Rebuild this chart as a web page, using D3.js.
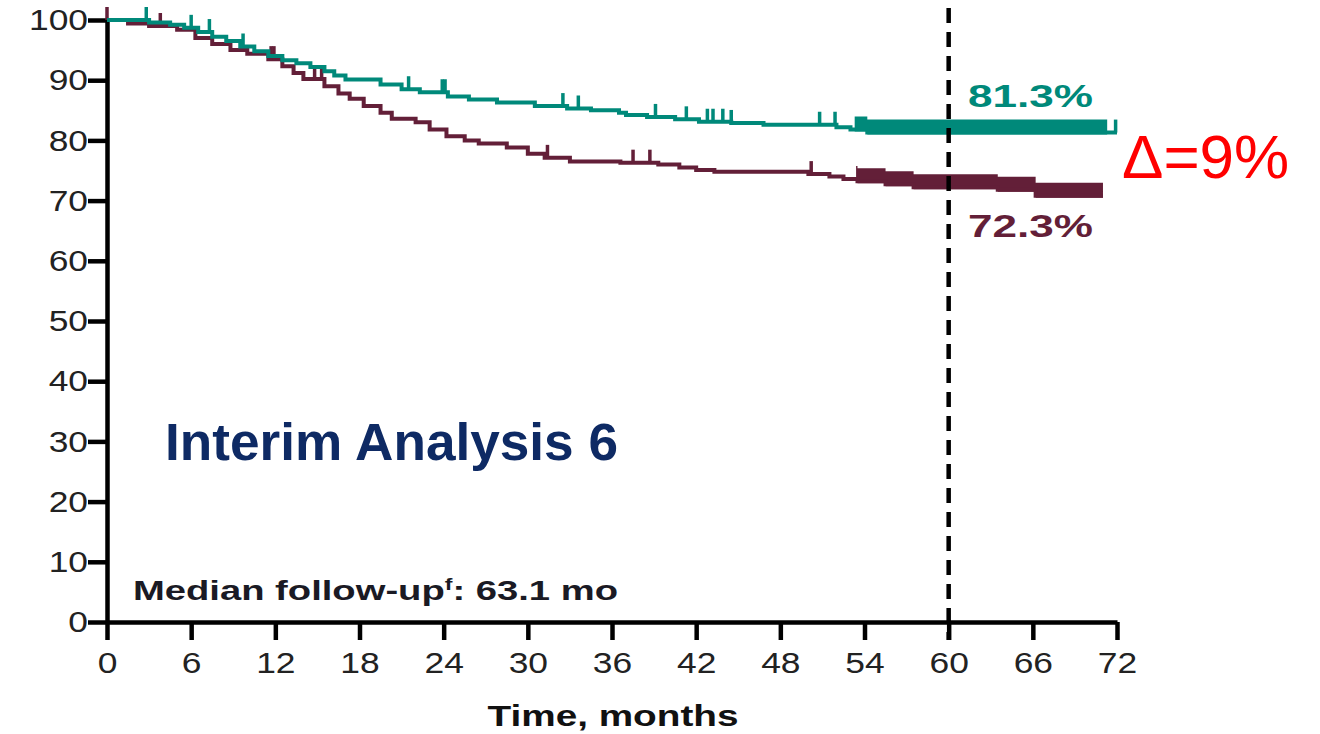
<!DOCTYPE html>
<html>
<head>
<meta charset="utf-8">
<script src="https://cdn.jsdelivr.net/npm/d3@7"></script>
<style>
  body { margin: 0; background: #fff; }
  svg { display: block; font-family: Arial, "Liberation Sans", sans-serif; }
</style>
</head>
<body>
<svg id="chart" width="1320" height="734"></svg>
<script>
// step curves, value holds from each time until the next one
var tealTimes = [0, 3, 4.5, 5.5, 6.5, 7.5, 8.5, 9.5, 10.5, 11.5, 12.5, 13.5, 14.5, 15.5, 16.2, 17,
  19.5, 21, 22.3, 24.3, 25.8, 27.8, 30.5, 32.8, 34.5, 36.5, 37, 38.5, 40.5, 42.2, 44.5, 46.8, 52, 53, 54.2];
var tealSurv = [100, 99.6, 99.2, 98.7, 98.0, 97.2, 96.5, 95.6, 94.8, 94.0, 93.3, 92.8, 92.2, 91.5, 90.8, 90.1,
  89.3, 88.5, 88.0, 87.3, 86.8, 86.3, 85.7, 85.3, 85.0, 84.6, 84.2, 83.9, 83.5, 83.1, 82.9, 82.6, 82.2, 81.8, 81.3];
var tealEnd = 72;
var tealCensor = [2.8, 6, 7.3, 9.7, 21.5, 23.9, 24.1, 32.5, 33.6, 39.1, 41.3, 42.8, 43.2, 43.9, 44.5, 50.8, 51.9, 71.9];
var tealDense = [53.3, 71.3];

var maroonTimes = [0, 1.5, 3, 5, 6.3, 7.5, 8.8, 10, 11.5, 12.5, 13.3, 14, 15.5, 16.5, 17.3, 18.3, 19.5, 20.3,
  22, 23, 24.2, 25.5, 26.5, 28.5, 30, 31.2, 33, 36.6, 39.3, 40.8, 42, 43.3, 50, 51.5, 52.5, 53.5, 55.5, 57.5, 63.5, 66.2];
var maroonSurv = [100, 99.4, 99.0, 98.4, 97.0, 96.0, 95.0, 94.4, 93.5, 92.3, 91.2, 90.2, 89.0, 87.8, 86.9, 85.7, 84.6, 83.6,
  83.0, 81.8, 80.7, 80.0, 79.5, 78.8, 77.8, 77.1, 76.5, 76.3, 76.0, 75.5, 75.1, 74.8, 74.4, 74.0, 73.6, 73.2, 72.7, 72.2, 71.8, 70.8];
var maroonEnd = 71;
var maroonCensor = [0, 3.8, 11.7, 11.9, 14.8, 15.3, 31.4, 37.5, 38.7, 50.2];
var maroonDense = [53.4, 71];

var xTicks = [0, 6, 12, 18, 24, 30, 36, 42, 48, 54, 60, 66, 72];
var yTicks = [0, 10, 20, 30, 40, 50, 60, 70, 80, 90, 100];
var landmark = 60;

var teal = "#00897a", maroon = "#631f38";

var svg = d3.select("#chart");
var x = d3.scaleLinear().domain([0, 72]).range([107, 1117]);
var y = d3.scaleLinear().domain([0, 100]).range([622, 20]);
var tickPx = 13;

function survAt(times, surv, t) {
  var i = d3.bisectRight(times, t) - 1;
  return surv[Math.max(i, 0)];
}

function drawArm(times, surv, end, censor, dense, color) {
  var pts = times.map(function(t, i) { return [t, surv[i]]; });
  pts.push([end, surv[surv.length - 1]]);

  // dense censoring merges into a solid band
  var bandPts = [[dense[0], survAt(times, surv, dense[0])]];
  times.forEach(function(t, i) { if (t > dense[0] && t < dense[1]) bandPts.push([t, surv[i]]); });
  bandPts.push([dense[1], survAt(times, surv, dense[1])]);
  svg.append("path")
    .datum(bandPts)
    .attr("fill", color)
    .attr("d", d3.area().curve(d3.curveStepAfter)
      .x(function(d) { return x(d[0]); })
      .y0(function(d) { return y(d[1]) + 2; })
      .y1(function(d) { return y(d[1]) - tickPx; }));

  svg.append("path")
    .datum(pts)
    .attr("fill", "none")
    .attr("stroke", color)
    .attr("stroke-width", 4)
    .attr("d", d3.line().curve(d3.curveStepAfter)
      .x(function(d) { return x(d[0]); })
      .y(function(d) { return y(d[1]); }));

  svg.selectAll(null)
    .data(censor)
    .enter().append("line")
    .attr("x1", function(d) { return x(d); })
    .attr("x2", function(d) { return x(d); })
    .attr("y1", function(d) { return y(survAt(times, surv, d)); })
    .attr("y2", function(d) { return y(survAt(times, surv, d)) - tickPx; })
    .attr("stroke", color)
    .attr("stroke-width", 3.5);
}

// axes
var yAxis = svg.append("g")
  .attr("transform", "translate(107,0)")
  .call(d3.axisLeft(y).tickValues(yTicks).tickSize(19).tickSizeOuter(0).tickPadding(6));
var xAxis = svg.append("g")
  .attr("transform", "translate(0,622)")
  .call(d3.axisBottom(x).tickValues(xTicks).tickSize(18).tickSizeOuter(0).tickPadding(8));

[yAxis, xAxis].forEach(function(g) {
  g.select(".domain").style("stroke", "#000").style("stroke-width", "4.5px");
  g.selectAll(".tick line").style("stroke", "#000").style("stroke-width", "4.5px");
  g.selectAll(".tick text").attr("fill", "#222").style("font-size", "30px");
});
// source picture is stretched sideways, so widen the tick labels a bit
yAxis.selectAll(".tick text").attr("text-anchor", "end")
  .attr("transform", "translate(-19,0) scale(1.18,1)").attr("x", 0);
xAxis.selectAll(".tick text").attr("transform", "scale(1.18,1)")
  .attr("dy", "0.85em");

drawArm(maroonTimes, maroonSurv, maroonEnd, maroonCensor, maroonDense, maroon);
drawArm(tealTimes, tealSurv, tealEnd, tealCensor, tealDense, teal);

// landmark line
svg.append("line")
  .attr("x1", x(landmark)).attr("x2", x(landmark))
  .attr("y1", 8).attr("y2", 640)
  .attr("stroke", "#000").attr("stroke-width", 4.5)
  .attr("stroke-dasharray", "15,9");

// labels
svg.append("text").attr("x", 968).attr("y", 107)
  .attr("fill", teal).style("font-size", "31px").style("font-weight", "bold")
  .attr("textLength", 125).attr("lengthAdjust", "spacingAndGlyphs")
  .text("81.3%");
svg.append("text").attr("x", 968).attr("y", 237)
  .attr("fill", maroon).style("font-size", "31px").style("font-weight", "bold")
  .attr("textLength", 125).attr("lengthAdjust", "spacingAndGlyphs")
  .text("72.3%");
svg.append("text").attr("x", 1122).attr("y", 178)
  .attr("fill", "#ff0000").style("font-size", "62px")
  .text("Δ=9%");
svg.append("text").attr("x", 165).attr("y", 460)
  .attr("fill", "#0e2a64").style("font-size", "51px").style("font-weight", "bold")
  .attr("textLength", 453).attr("lengthAdjust", "spacingAndGlyphs")
  .text("Interim Analysis 6");

var med = svg.append("text").attr("x", 133).attr("y", 600)
  .attr("fill", "#1a1a24").style("font-size", "28px").style("font-weight", "bold")
  .attr("textLength", 485).attr("lengthAdjust", "spacingAndGlyphs");
med.append("tspan").text("Median follow-up");
med.append("tspan").attr("dy", -10).style("font-size", "17px").text("f");
med.append("tspan").attr("dy", 10).text(": 63.1 mo");

svg.append("text").attr("x", 613).attr("y", 726)
  .attr("text-anchor", "middle")
  .attr("fill", "#111").style("font-size", "30px").style("font-weight", "bold")
  .attr("textLength", 251).attr("lengthAdjust", "spacingAndGlyphs")
  .text("Time, months");
</script>
</body>
</html>
